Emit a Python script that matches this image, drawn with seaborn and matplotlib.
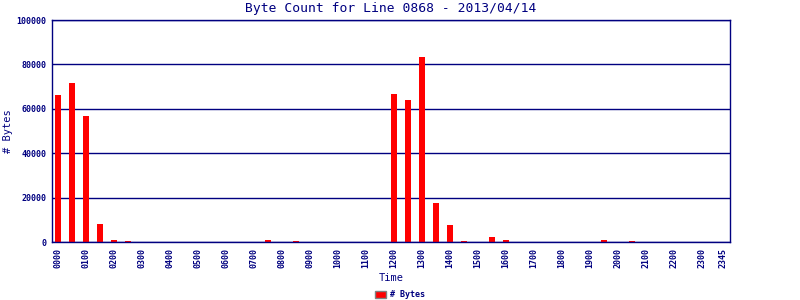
import matplotlib
matplotlib.use("Agg")
import matplotlib.pyplot as plt
import seaborn as sns
import pandas as pd
from matplotlib.patches import Patch

# 15-minute slots across the day
slots = [f"{h:02d}{m:02d}" for h in range(24) for m in (0, 15, 30, 45)]
# Byte counts (only non-zero half-hour slots listed)
bar_times = ["0000", "0030", "0100", "0130", "0200", "0230", "0730", "0830",
             "1200", "1230", "1300", "1330", "1400", "1430", "1530", "1600",
             "1930", "2030"]
bar_bytes = [66200, 71600, 56800, 8100, 900, 450, 900, 450,
             66700, 64000, 83300, 17600, 7700, 450, 2300, 900,
             900, 450]
tick_labels = [s for i, s in enumerate(slots) if i % 4 == 0] + ["2345"]

lookup = dict(zip(bar_times, bar_bytes))
df = pd.DataFrame({"Time": slots, "Bytes": [lookup.get(s, 0) for s in slots]})

navy = "#000080"
sns.set_theme(style="white")
plt.rcParams["font.family"] = ["DejaVu Sans Mono", "DejaVu Sans"]

fig = plt.figure(figsize=(8, 3), dpi=100)
ax = fig.add_axes([0.065, 0.1933, 0.8475, 0.74])
ax.set_axisbelow(True)
sns.barplot(data=df, x="Time", y="Bytes", order=slots, color="#ff0000",
            saturation=1, width=0.86, linewidth=0, edgecolor="none", ax=ax)

ax.set_ylim(0, 100000)
ax.set_xlim(-0.86, 96)
ax.set_yticks([0, 20000, 40000, 60000, 80000, 100000])
ax.set_yticklabels(["0", "20000", "40000", "60000", "80000", "100000"],
                   fontsize=6, color=navy, fontweight="bold")
tick_pos = [i for i in range(0, 96, 4)] + [95]
ax.set_xticks(tick_pos)
ax.set_xticklabels(tick_labels, rotation=90, fontsize=6, color=navy,
                   fontweight="bold")
ax.tick_params(axis="both", length=0, pad=4)
ax.grid(axis="y", color=navy, linewidth=1)
for sp in ax.spines.values():
    sp.set_color(navy)
    sp.set_linewidth(1)
    sp.set_visible(True)

ax.set_title("Byte Count for Line 0868 - 2013/04/14", fontsize=9.4,
             color=navy, pad=6)
ax.set_ylabel("# Bytes", fontsize=7.5, color=navy)
ax.yaxis.set_label_coords(-0.057, 0.5)
ax.set_xlabel("Time", fontsize=7.5, color=navy, labelpad=4)

handle = Patch(facecolor="#ff0000", edgecolor="#808080", linewidth=1)
fig.legend([handle], ["# Bytes"], loc="center", bbox_to_anchor=(0.5, 0.017),
           frameon=False, prop={"weight": "bold", "size": 6},
           handlelength=1.3, handleheight=0.9, handletextpad=0.4,
           labelcolor=navy)

fig.savefig("out.png", dpi=100)
